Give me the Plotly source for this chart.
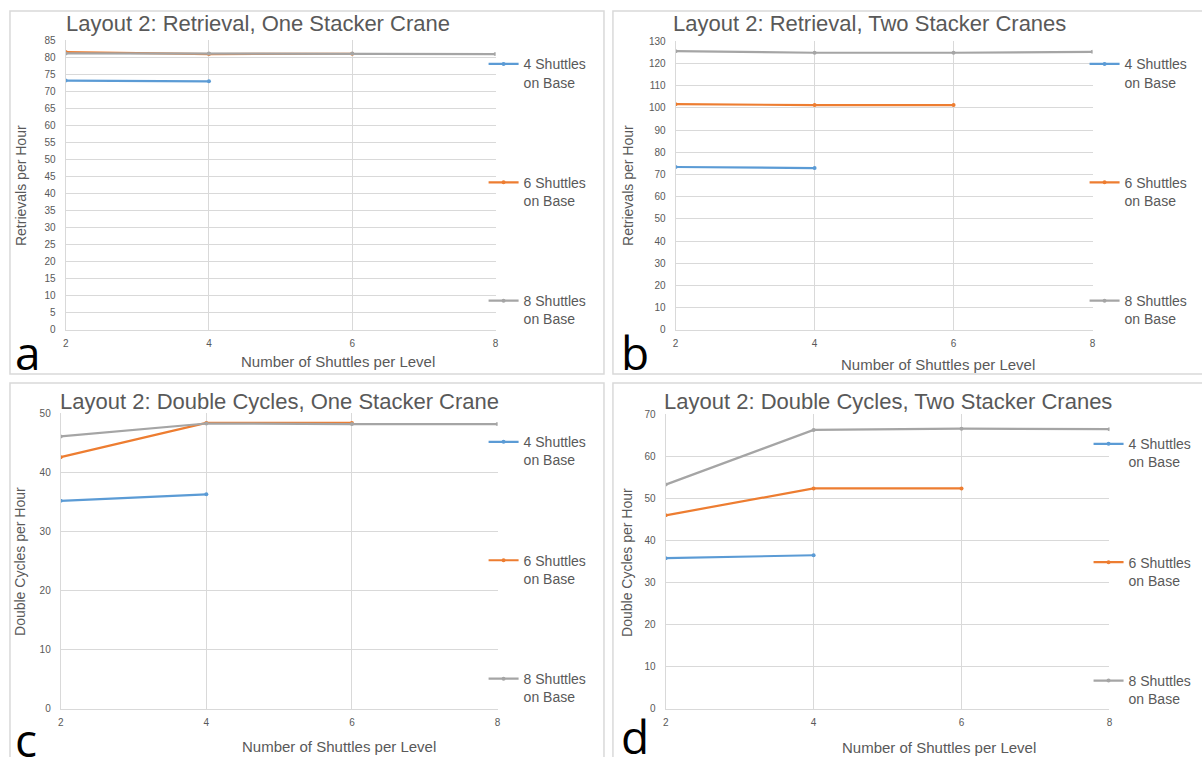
import plotly.graph_objects as go

W, H = 1202, 757

# ---------------- data ----------------
shuttles_per_level = [2, 4, 6, 8]
series_names = ["4 Shuttles<br>on Base", "6 Shuttles<br>on Base", "8 Shuttles<br>on Base"]

a_base4 = [73.2, 73.0]
a_base6 = [81.6, 81.0, 81.1]
a_base8 = [81.2, 81.2, 81.2, 81.0]

b_base4 = [73.4, 72.9]
b_base6 = [101.7, 101.3, 101.3]
b_base8 = [125.6, 124.9, 124.9, 125.3]

c_base4 = [35.2, 36.3]
c_base6 = [42.6, 48.4, 48.4]
c_base8 = [46.1, 48.3, 48.2, 48.2]

d_base4 = [35.8, 36.5]
d_base6 = [46.0, 52.4, 52.4]
d_base8 = [53.3, 66.3, 66.6, 66.5]

panel_titles = [
    "Layout 2: Retrieval, One Stacker Crane",
    "Layout 2: Retrieval, Two Stacker Cranes",
    "Layout 2: Double Cycles, One Stacker Crane",
    "Layout 2: Double Cycles, Two Stacker Cranes",
]
y_titles = ["Retrievals per Hour", "Retrievals per Hour",
            "Double Cycles per Hour", "Double Cycles per Hour"]
x_title = "Number of Shuttles per Level"
panel_letters = ["a", "b", "c", "d"]
y_max = [85, 130, 50, 70]
y_step = [5, 10, 10, 10]

panel_series = [
    [a_base4, a_base6, a_base8],
    [b_base4, b_base6, b_base8],
    [c_base4, c_base6, c_base8],
    [d_base4, d_base6, d_base8],
]

# ---------------- styling / layout (pixels) ----------------
colors = ["#5B9BD5", "#ED7D31", "#A5A5A5"]
TXT = "#595959"
GRID = "#D9D9D9"
FONT = "Liberation Sans, Arial, sans-serif"

panels = [
    dict(plot=(63, 495, 35, 329), border=(7, 604, 5, 374), title=(256, 18),
         ytitle=(18, 182), xtitle=(337, 361), letter=(10, 352), legend=(483, 43)),
    dict(plot=(676, 1095, 36, 329), border=(613, 1215, 5, 374), title=(871, 18),
         ytitle=(628, 182), xtitle=(940, 364), letter=(619, 352), legend=(1087, 43)),
    dict(plot=(58, 497, 414, 714), border=(7, 604, 383, 790), title=(278, 402),
         ytitle=(17, 564), xtitle=(338, 752), letter=(10, 745), legend=(483, 427)),
    dict(plot=(666, 1112, 415, 714), border=(613, 1215, 383, 790), title=(889, 402),
         ytitle=(627, 565), xtitle=(941, 753), letter=(619, 742), legend=(1091, 429)),
]


def fx(px):
    return px / W


def fy(py):
    return 1 - py / H


fig = go.Figure()
layout = dict(
    width=W, height=H,
    margin=dict(l=0, r=0, t=0, b=0),
    paper_bgcolor="white", plot_bgcolor="white",
    font=dict(family=FONT, color=TXT),
    annotations=[], shapes=[],
)

for i, p in enumerate(panels):
    k = "" if i == 0 else str(i + 1)
    x0, x1, y0, y1 = p["plot"]
    leg = "legend" if i == 0 else "legend" + str(i + 1)
    for j, vals in enumerate(panel_series[i]):
        fig.add_trace(go.Scatter(
            x=shuttles_per_level[:len(vals)], y=vals,
            mode="lines+markers", name=series_names[j],
            line=dict(color=colors[j], width=2.2),
            marker=dict(color=colors[j], size=4),
            xaxis="x" + k, yaxis="y" + k,
            legend=leg, legendgroup=f"g{i}_{j}",
            showlegend=True,
        ))
    layout["xaxis" + k] = dict(
        domain=[fx(x0), fx(x1)], anchor="y" + k,
        range=[2, 8], tickvals=shuttles_per_level,
        showgrid=True, gridcolor=GRID, gridwidth=1,
        showline=True, linecolor=GRID, linewidth=1, mirror=False,
        zeroline=False, ticks="", ticklabelstandoff=4,
        tickfont=dict(size=10, color=TXT, family=FONT),
    )
    layout["yaxis" + k] = dict(
        domain=[fy(y1), fy(y0)], anchor="x" + k,
        range=[0, y_max[i]], dtick=y_step[i], tick0=0,
        showgrid=True, gridcolor=GRID, gridwidth=1,
        showline=True, linecolor=GRID, linewidth=1,
        zeroline=False, ticks="", ticklabelstandoff=7,
        tickfont=dict(size=10, color=TXT, family=FONT),
    )
    lx, ly = p["legend"]
    layout[leg] = dict(
        x=fx(lx), y=fy(ly), xanchor="left", yanchor="top",
        xref="paper", yref="paper",
        bgcolor="rgba(0,0,0,0)", borderwidth=0,
        font=dict(size=14, color=TXT, family=FONT),
        valign="top", tracegroupgap=79, itemwidth=30,
        traceorder="grouped",
    )
    bx0, bx1, by0, by1 = p["border"]
    layout["shapes"].append(dict(
        type="rect", xref="paper", yref="paper",
        x0=fx(bx0), x1=fx(bx1), y0=fy(by1), y1=fy(by0),
        line=dict(color=GRID, width=1.5), fillcolor="rgba(0,0,0,0)", layer="below",
    ))
    tx, ty = p["title"]
    layout["annotations"].append(dict(
        text=panel_titles[i], x=fx(tx), y=fy(ty), xref="paper", yref="paper",
        xanchor="center", yanchor="middle", showarrow=False,
        font=dict(size=22, color=TXT, family=FONT),
    ))
    ytx, yty = p["ytitle"]
    layout["annotations"].append(dict(
        text=y_titles[i], x=fx(ytx), y=fy(yty), xref="paper", yref="paper",
        xanchor="center", yanchor="middle", showarrow=False, textangle=-90,
        font=dict(size=14, color=TXT, family=FONT),
    ))
    xtx, xty = p["xtitle"]
    layout["annotations"].append(dict(
        text=x_title, x=fx(xtx), y=fy(xty), xref="paper", yref="paper",
        xanchor="center", yanchor="middle", showarrow=False,
        font=dict(size=15, color=TXT, family=FONT),
    ))
    ltx, lty = p["letter"]
    layout["annotations"].append(dict(
        text=panel_letters[i], x=fx(ltx), y=fy(lty), xref="paper", yref="paper",
        xanchor="left", yanchor="middle", showarrow=False,
        font=dict(size=46, color="black", family="Open Sans, sans-serif"),
    ))

fig.update_layout(**layout)
fig.write_html("out.html")
